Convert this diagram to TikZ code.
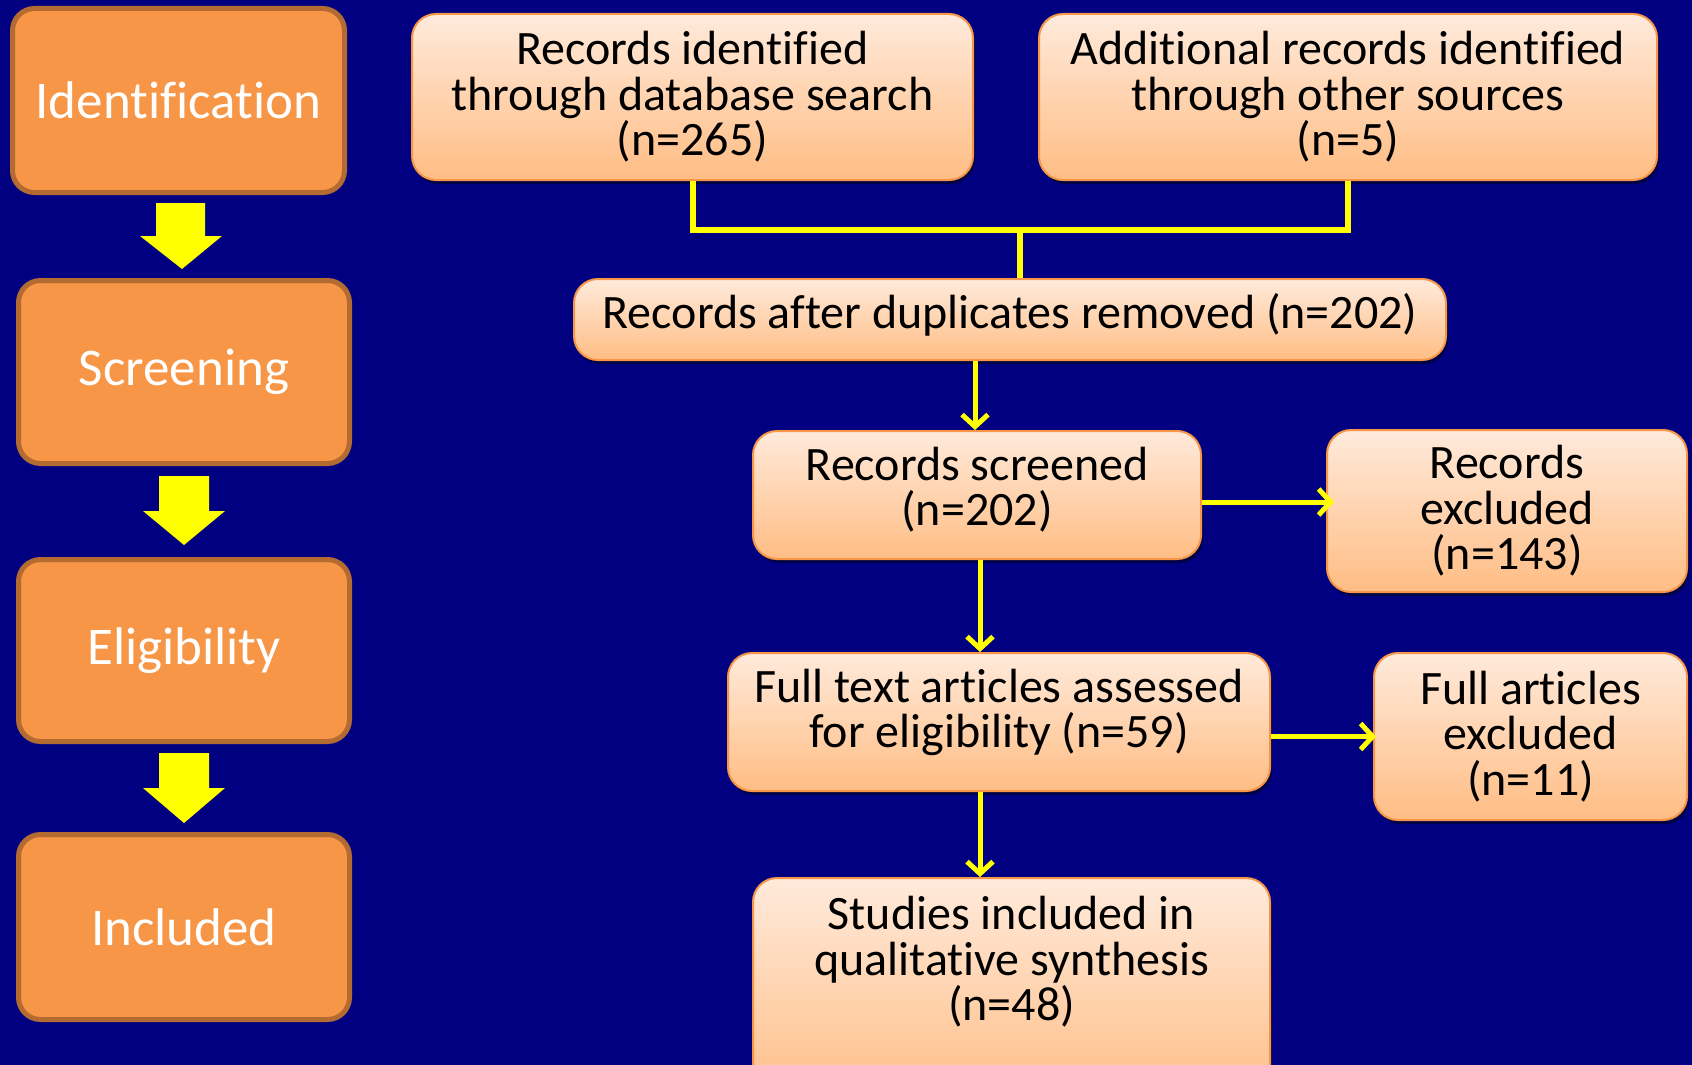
\documentclass[tikz,border=0pt]{standalone}
\usepackage{fontspec}
\setmainfont{Carlito}[Ligatures={NoCommon}, RawFeature={-liga;-dlig;-clig}]
\usetikzlibrary{arrows.meta,shadows,calc}
\definecolor{bgnavy}{HTML}{000080}
\definecolor{stagefill}{HTML}{F79646}
\definecolor{stageedge}{HTML}{B36B32}
\definecolor{boxtop}{HTML}{FFEADB}
\definecolor{boxbot}{HTML}{FFBD84}
\definecolor{boxedge}{HTML}{F79646}
\definecolor{lineyel}{HTML}{FFFF00}
\newcommand\txtup[2]{\raisebox{#1}[\height][\depth]{\vbox{\baselineskip=45.5pt\lineskiplimit=-100pt\halign{\hfil##\hfil\cr#2\crcr}}}}
\begin{document}
\begin{tikzpicture}[x=1pt,y=-1pt,
 stage/.style={draw=stageedge, line width=5pt, fill=stagefill, rounded corners=22pt,
   text=white, font=\fontsize{53}{60}\selectfont, inner sep=0pt},
 rbox/.style={draw=boxedge, line width=2pt, top color=boxtop, bottom color=boxbot,
   rounded corners=24pt, align=center, font=\fontsize{48}{45.5}\selectfont, inner sep=0pt,
   drop shadow={opacity=0.45, shadow xshift=2pt, shadow yshift=-4pt, fill=black}},
 rtext/.style={align=center, font=\fontsize{48}{45.5}\selectfont, inner sep=0pt},
 conn/.style={draw=lineyel, line width=6pt},
 arr/.style={draw=lineyel, line width=5pt, -{Straight Barb[length=12pt,width=26pt]}},
 blockarr/.style={fill=lineyel}
]
\useasboundingbox (0,0) rectangle (1692,1065);
\fill[bgnavy] (0,0) rectangle (1692,1065);
\clip (0,0) rectangle (1692,1065);

% stage boxes
\node[stage, minimum width=332pt, minimum height=184pt] (id) at (178.5,100.5) {Identification};
\node[stage, minimum width=331pt, minimum height=183pt] (scr) at (184,372) {Screening};
\node[stage, minimum width=331pt, minimum height=182pt] (eli) at (184,650.5) {Eligibility};
\node[stage, minimum width=331pt, minimum height=185pt] (inc) at (184,927) {Included};

% block arrows
\fill[blockarr] (156,203) -- (205,203) -- (205,236) -- (222,236) -- (182,269) -- (140,236) -- (156,236) -- cycle;
\fill[blockarr] (159,476) -- (209,476) -- (209,511) -- (225,511) -- (184,545) -- (143,511) -- (159,511) -- cycle;
\fill[blockarr] (159,753) -- (209,753) -- (209,788) -- (225,788) -- (184,823) -- (143,788) -- (159,788) -- cycle;

% flow boxes
\node[rbox, minimum width=561pt, minimum height=166pt] (A) at (692.5,97)
  {Records identified\\through database search\\(n=265)};
\node[rbox, minimum width=618pt, minimum height=166pt] (B) at (1348,97)
  {Additional records identified\\through other sources\\(n=5)};
\node[rbox, minimum width=872pt, minimum height=81pt] (C) at (1010,319.5)
  {\txtup{4.5pt}{Records after duplicates removed (n=202)}};
\node[rbox, minimum width=448pt, minimum height=128pt] (D) at (977,495)
  {\txtup{5.5pt}{Records screened\cr(n=202)}};
\node[rbox, minimum width=360pt, minimum height=162pt] (E) at (1507,511)
  {Records\\excluded\\(n=143)};
\node[rbox, minimum width=542pt, minimum height=138pt] (G) at (999,722)
  {\txtup{9.5pt}{Full text articles assessed\cr for eligibility (n=59)}};
\node[rbox, minimum width=313pt, minimum height=167pt] (F) at (1530.5,736.5)
  {Full articles\\excluded\\(n=11)};
\node[rbox, minimum width=517pt, minimum height=230pt, anchor=north] (H) at (1011.5,877) {};
\node[rtext, anchor=north] (Ht) at ([yshift=-19pt]H.north)
  {Studies included in\\qualitative synthesis\\(n=48)};

% connectors
\coordinate (J) at (1020,230);
\draw[conn] (A.south) |- (J) -| (B.south);
\draw[conn] (J) -- (J |- C.north);
\draw[arr] ([xshift=-2pt]D.north |- C.south) -- ([xshift=-2pt]D.north);
\draw[arr] ([yshift=-7pt]D.east) -- ([yshift=-7pt,xshift=8pt]D.east -| E.west);
\draw[arr] ([xshift=3pt]D.south) -- ([xshift=3pt]D.south |- G.north);
\draw[arr] (G.east |- F.west) -- ([xshift=3pt]F.west);
\draw[arr] ([xshift=3pt]D.south |- G.south) -- ([xshift=3pt]D.south |- H.north);
\end{tikzpicture}
\end{document}
